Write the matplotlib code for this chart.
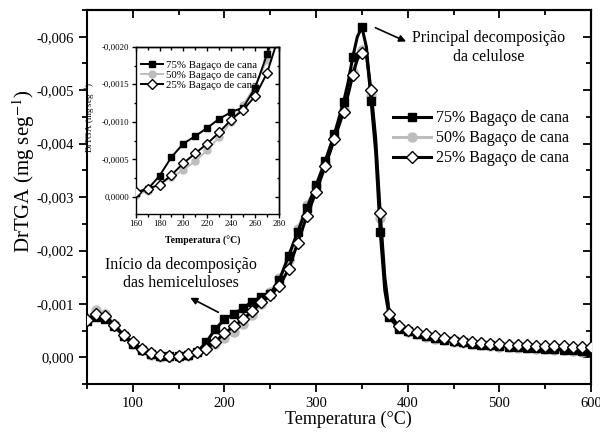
import matplotlib.pyplot as plt
from matplotlib.ticker import MultipleLocator, FuncFormatter

plt.rcParams['font.family'] = ['Liberation Serif', 'DejaVu Serif']
plt.rcParams['mathtext.fontset'] = 'stix'

# %% dados (DrTGA em mg/s, negativo = perda de massa)
temperatura = [50, 60, 70, 80, 90, 100, 110, 120, 130, 140, 150, 160, 170, 180, 190,
               200, 210, 220, 230, 240, 250, 260, 270, 280, 290, 300, 310, 320, 330,
               335, 340, 345, 350, 355, 360, 365, 370, 375, 380,
               390, 400, 410, 420, 430, 440, 450, 460, 470, 480, 490, 500, 510, 520,
               530, 540, 550, 560, 570, 580, 590, 600]

dtg_75 = [-0.00068, -0.00076, -0.00072, -0.00058, -0.00040, -0.00026, -0.00014, -0.00006,
          -0.00003, -0.00003, -0.00003, -0.00005, -0.00010, -0.00028, -0.00053,
          -0.00071, -0.00081, -0.00092, -0.00104, -0.00113, -0.00119, -0.00145, -0.00190,
          -0.00235, -0.00280, -0.00322, -0.00368, -0.00418, -0.00478,
          -0.00515, -0.00562, -0.00600, -0.00618, -0.00580, -0.00480, -0.00385, -0.00235,
          -0.00125, -0.00075,
          -0.00054, -0.00049, -0.00044, -0.00040, -0.00036, -0.00033, -0.00030, -0.00028,
          -0.00026, -0.00024, -0.00023, -0.00021, -0.00020, -0.00019, -0.00018, -0.00017,
          -0.00016, -0.00015, -0.00014, -0.00013, -0.00012, -0.00011]

dtg_50 = [-0.00074, -0.00088, -0.00082, -0.00062, -0.00042, -0.00026, -0.00013, -0.00005,
          -0.00001, 0.00000, 0.00000, -0.00002, -0.00008, -0.00017, -0.00026,
          -0.00036, -0.00048, -0.00062, -0.00080, -0.00100, -0.00122, -0.00148, -0.00182,
          -0.00240, -0.00285, -0.00320, -0.00362, -0.00410, -0.00465,
          -0.00500, -0.00535, -0.00562, -0.00575, -0.00560, -0.00490, -0.00400, -0.00260,
          -0.00140, -0.00080,
          -0.00055, -0.00048, -0.00043, -0.00039, -0.00035, -0.00032, -0.00029, -0.00027,
          -0.00025, -0.00023, -0.00022, -0.00020, -0.00019, -0.00018, -0.00017, -0.00016,
          -0.00015, -0.00014, -0.00013, -0.00012, -0.00011, -0.00010]

dtg_25 = [-0.00070, -0.00082, -0.00078, -0.00060, -0.00042, -0.00028, -0.00016, -0.00008,
          -0.00004, -0.00003, -0.00003, -0.00006, -0.00011, -0.00016, -0.00029,
          -0.00045, -0.00058, -0.00071, -0.00086, -0.00103, -0.00116, -0.00134, -0.00165,
          -0.00215, -0.00265, -0.00310, -0.00358, -0.00408, -0.00460,
          -0.00492, -0.00528, -0.00558, -0.00570, -0.00565, -0.00500, -0.00410, -0.00270,
          -0.00150, -0.00082,
          -0.00058, -0.00052, -0.00048, -0.00044, -0.00040, -0.00036, -0.00033, -0.00031,
          -0.00029, -0.00027, -0.00026, -0.00025, -0.00024, -0.00023, -0.00023, -0.00022,
          -0.00022, -0.00021, -0.00021, -0.00020, -0.00020, -0.00020]

rotulos = ['75% Bagaço de cana', '50% Bagaço de cana', '25% Bagaço de cana']

# marcadores so a cada 10 graus
marcas = [t % 10 == 0 for t in temperatura]

estilos = [
    dict(color='black', marker='s', mfc='black', mec='black', zorder=3),
    dict(color='#bdbdbd', marker='o', mfc='#bdbdbd', mec='#bdbdbd', zorder=2),
    dict(color='black', marker='D', mfc='white', mec='black', zorder=4),
]
tam_main = [5.8, 6.5, 6.0]
tam_ins = [4.6, 5.0, 4.6]
series = [dtg_75, dtg_50, dtg_25]


def virgula(fmt):
    def f(v, pos):
        if abs(v) < 1e-12:
            v = 0.0
        return fmt.format(v).replace('.', ',')
    return FuncFormatter(f)


def espelhar(a, xmaj, xmin, ymaj, ymin, comp):
    # ticks para dentro no topo e na direita, como no Origin
    top = a.secondary_xaxis('top')
    top.xaxis.set_major_locator(MultipleLocator(xmaj))
    top.xaxis.set_minor_locator(MultipleLocator(xmin))
    top.tick_params(which='both', direction='in', labeltop=False, width=comp[2])
    top.tick_params(which='major', length=comp[0])
    top.tick_params(which='minor', length=comp[1])
    top.spines['top'].set_linewidth(comp[3])
    right = a.secondary_yaxis('right')
    right.yaxis.set_major_locator(MultipleLocator(ymaj))
    right.yaxis.set_minor_locator(MultipleLocator(ymin))
    right.tick_params(which='both', direction='in', labelright=False, width=comp[2])
    right.tick_params(which='major', length=comp[0])
    right.tick_params(which='minor', length=comp[1])
    right.spines['right'].set_linewidth(comp[3])


# %%
fig = plt.figure(figsize=(6, 4.37), dpi=100)
ax = fig.add_axes([0.145, 0.121, 0.84, 0.856])

for y, lab, st, ms in zip(series, rotulos, estilos, tam_main):
    ax.plot(temperatura, y, lw=2.2, ms=ms, markevery=marcas, label=lab, **st)

ax.set_xlim(50, 600)
ax.set_ylim(0.0005, -0.0065)
ax.xaxis.set_major_locator(MultipleLocator(100))
ax.xaxis.set_minor_locator(MultipleLocator(50))
ax.yaxis.set_major_locator(MultipleLocator(0.001))
ax.yaxis.set_minor_locator(MultipleLocator(0.0005))
ax.yaxis.set_major_formatter(virgula('{:.3f}'))
ax.tick_params(which='both', direction='out', width=1.3, labelsize=10.5)
ax.tick_params(which='major', length=6)
ax.tick_params(which='minor', length=3.5)
for s in ax.spines.values():
    s.set_linewidth(1.5)
espelhar(ax, 100, 50, 0.001, 0.0005, (6, 3.5, 1.3, 1.5))

ax.set_xlabel('Temperatura (°C)', fontsize=13)
ax.xaxis.set_label_coords(0.518, -0.072)
ax.set_ylabel('DrTGA (mg seg$^{-1}$)', fontsize=15)
ax.yaxis.set_label_coords(-0.10, 0.57)

ax.legend(loc='upper left', bbox_to_anchor=(0.655, 0.748), bbox_transform=fig.transFigure,
          frameon=False, fontsize=11.5, numpoints=1, handlelength=2.4,
          handletextpad=0.3, labelspacing=0.25, borderpad=0, borderaxespad=0)

ax.text(488, -0.0058, 'Principal decomposição\nda celulose', ha='center', va='center',
        fontsize=11.5)
ax.annotate('', xy=(401, -0.00589), xytext=(362, -0.00619),
            arrowprops=dict(arrowstyle='-|>', color='black', lw=1.2))
ax.text(152, -0.00156, 'Início da decomposição\ndas hemiceluloses', ha='center',
        va='center', fontsize=11.5)
ax.annotate('', xy=(160, -0.00114), xytext=(196, -0.00082),
            arrowprops=dict(arrowstyle='-|>', color='black', lw=1.2))

# %% inset
ins = fig.add_axes([0.226, 0.510, 0.239, 0.383])
for y, lab, st, ms in zip(series, rotulos, estilos, tam_ins):
    ins.plot(temperatura, y, lw=1.4, ms=ms, markevery=marcas, label=lab, **st)
ins.set_xlim(160, 280)
ins.set_ylim(0.00023, -0.002)
ins.xaxis.set_major_locator(MultipleLocator(20))
ins.xaxis.set_minor_locator(MultipleLocator(10))
ins.yaxis.set_major_locator(MultipleLocator(0.0005))
ins.yaxis.set_minor_locator(MultipleLocator(0.00025))
ins.yaxis.set_major_formatter(virgula('{:.4f}'))
ins.tick_params(which='both', direction='out', width=1.0, labelsize=6.3, pad=1.5)
ins.tick_params(which='major', length=3)
ins.tick_params(which='minor', length=1.8)
for s in ins.spines.values():
    s.set_linewidth(1.0)
espelhar(ins, 20, 10, 0.0005, 0.00025, (3, 1.8, 1.0, 1.0))
ins.set_xlabel('Temperatura (°C)', fontsize=7, fontweight='bold')
ins.xaxis.set_label_coords(0.47, -0.13)
ins.set_ylabel('DrTGA (mg seg$^{-1}$)', fontsize=6.5)
ins.yaxis.set_label_coords(-0.262, 0.58)
ins.legend(loc='upper left', bbox_to_anchor=(0.037, 0.92), frameon=False, fontsize=7.8,
           numpoints=1, handlelength=2.0, handletextpad=0.3, labelspacing=0.05,
           borderpad=0, borderaxespad=0)

fig.savefig('out.png', dpi=100)
